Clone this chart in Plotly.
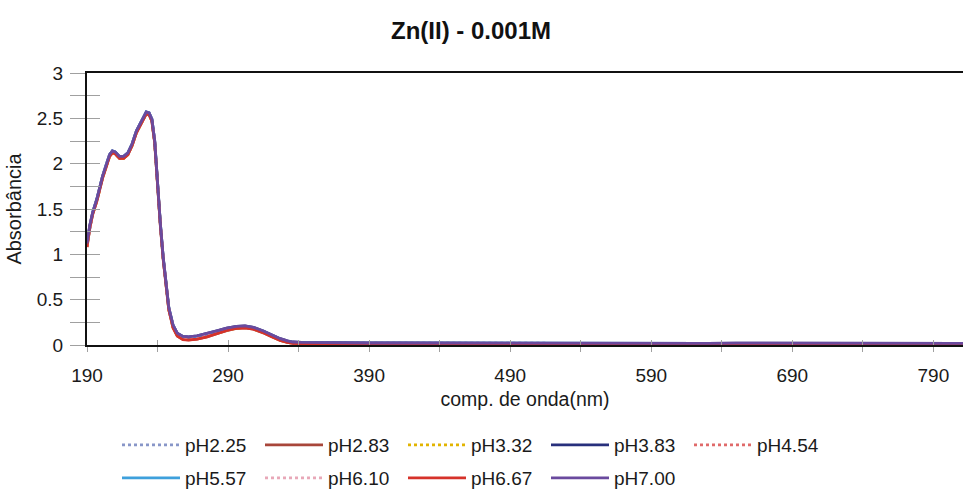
import plotly.graph_objects as go

# Wavelength grid (nm) shared by all spectra
wavelength = [190, 192, 194, 197, 201, 204, 206, 208, 210, 213,
              216, 219, 222, 225, 229, 232, 234, 236, 238, 240,
              242, 244, 246, 248, 251, 254, 258, 262, 268, 275,
              282, 289, 296, 302, 308, 315, 321, 327, 332, 336,
              342, 350, 370, 390, 410, 430, 450, 470, 490, 510,
              530, 550, 570, 590, 610, 630, 650, 670, 690, 710,
              730, 750, 770, 790, 811]

# Absorbance of each pH solution
abs_ph225 = [1.11, 1.31, 1.45, 1.60, 1.85, 2.00, 2.09, 2.13, 2.12, 2.07,
             2.07, 2.11, 2.21, 2.35, 2.48, 2.56, 2.55, 2.48, 2.24, 1.77,
             1.33, 0.96, 0.64, 0.40, 0.21, 0.125, 0.09, 0.085, 0.095, 0.12,
             0.15, 0.18, 0.20, 0.205, 0.19, 0.15, 0.105, 0.065, 0.04, 0.03,
             0.025, 0.023, 0.022, 0.02, 0.021, 0.02, 0.021, 0.019, 0.02, 0.019,
             0.02, 0.018, 0.013, 0.016, 0.019, 0.017, 0.019, 0.018, 0.02, 0.019,
             0.017, 0.019, 0.02, 0.019, 0.018]
abs_ph283 = [1.08, 1.29, 1.44, 1.59, 1.84, 1.99, 2.08, 2.12, 2.11, 2.06,
             2.06, 2.10, 2.20, 2.34, 2.47, 2.55, 2.54, 2.47, 2.23, 1.76,
             1.32, 0.95, 0.63, 0.39, 0.19, 0.10, 0.062, 0.056, 0.066, 0.09,
             0.125, 0.158, 0.182, 0.188, 0.174, 0.134, 0.09, 0.05, 0.028, 0.018,
             0.014, 0.012, 0.012, 0.011, 0.012, 0.011, 0.012, 0.01, 0.012, 0.011,
             0.012, 0.01, 0.006, 0.009, 0.012, 0.01, 0.012, 0.011, 0.013, 0.012,
             0.01, 0.012, 0.013, 0.012, 0.011]
abs_ph332 = [1.09, 1.30, 1.44, 1.59, 1.84, 1.99, 2.08, 2.12, 2.11, 2.06,
             2.06, 2.10, 2.20, 2.34, 2.47, 2.55, 2.54, 2.47, 2.23, 1.76,
             1.32, 0.95, 0.63, 0.39, 0.195, 0.105, 0.068, 0.062, 0.072, 0.097,
             0.13, 0.163, 0.186, 0.192, 0.178, 0.138, 0.094, 0.054, 0.031, 0.021,
             0.016, 0.014, 0.014, 0.013, 0.014, 0.013, 0.014, 0.012, 0.014, 0.013,
             0.014, 0.012, 0.008, 0.011, 0.014, 0.012, 0.014, 0.013, 0.015, 0.014,
             0.012, 0.014, 0.015, 0.014, 0.013]
abs_ph383 = [1.12, 1.32, 1.46, 1.61, 1.86, 2.01, 2.10, 2.14, 2.13, 2.08,
             2.08, 2.12, 2.22, 2.36, 2.49, 2.57, 2.56, 2.49, 2.25, 1.78,
             1.34, 0.97, 0.65, 0.41, 0.22, 0.13, 0.095, 0.09, 0.10, 0.125,
             0.155, 0.185, 0.205, 0.21, 0.195, 0.155, 0.11, 0.07, 0.045, 0.033,
             0.028, 0.026, 0.024, 0.022, 0.022, 0.021, 0.022, 0.02, 0.021, 0.02,
             0.021, 0.019, 0.014, 0.017, 0.02, 0.018, 0.02, 0.019, 0.021, 0.02,
             0.018, 0.02, 0.021, 0.02, 0.019]
abs_ph454 = [1.09, 1.30, 1.45, 1.60, 1.85, 2.00, 2.09, 2.13, 2.12, 2.07,
             2.07, 2.11, 2.21, 2.35, 2.48, 2.56, 2.55, 2.48, 2.24, 1.77,
             1.33, 0.96, 0.64, 0.40, 0.20, 0.11, 0.07, 0.064, 0.075, 0.10,
             0.133, 0.166, 0.189, 0.195, 0.181, 0.141, 0.097, 0.057, 0.033, 0.022,
             0.017, 0.015, 0.015, 0.014, 0.015, 0.014, 0.015, 0.013, 0.015, 0.014,
             0.015, 0.013, 0.009, 0.012, 0.015, 0.013, 0.015, 0.014, 0.016, 0.015,
             0.013, 0.015, 0.016, 0.015, 0.014]
abs_ph557 = [1.11, 1.31, 1.46, 1.61, 1.86, 2.01, 2.10, 2.14, 2.13, 2.08,
             2.08, 2.12, 2.22, 2.36, 2.49, 2.57, 2.56, 2.49, 2.25, 1.78,
             1.34, 0.97, 0.65, 0.41, 0.215, 0.125, 0.09, 0.085, 0.096, 0.121,
             0.151, 0.181, 0.201, 0.206, 0.191, 0.151, 0.106, 0.066, 0.041, 0.03,
             0.025, 0.023, 0.022, 0.021, 0.021, 0.02, 0.021, 0.019, 0.02, 0.019,
             0.02, 0.018, 0.013, 0.016, 0.019, 0.017, 0.019, 0.018, 0.02, 0.019,
             0.017, 0.019, 0.02, 0.019, 0.018]
abs_ph610 = [1.10, 1.30, 1.45, 1.60, 1.85, 2.00, 2.09, 2.13, 2.12, 2.07,
             2.07, 2.11, 2.21, 2.35, 2.48, 2.56, 2.55, 2.48, 2.24, 1.77,
             1.33, 0.96, 0.64, 0.40, 0.205, 0.115, 0.076, 0.07, 0.08, 0.105,
             0.138, 0.17, 0.192, 0.198, 0.184, 0.144, 0.1, 0.06, 0.035, 0.024,
             0.019, 0.017, 0.016, 0.015, 0.016, 0.015, 0.016, 0.014, 0.016, 0.015,
             0.016, 0.014, 0.01, 0.013, 0.016, 0.014, 0.016, 0.015, 0.017, 0.016,
             0.014, 0.016, 0.017, 0.016, 0.015]
abs_ph667 = [1.08, 1.29, 1.44, 1.59, 1.84, 1.99, 2.08, 2.12, 2.11, 2.06,
             2.06, 2.10, 2.20, 2.34, 2.47, 2.55, 2.54, 2.47, 2.23, 1.76,
             1.32, 0.95, 0.63, 0.39, 0.19, 0.10, 0.06, 0.055, 0.065, 0.09,
             0.125, 0.16, 0.185, 0.19, 0.175, 0.135, 0.09, 0.05, 0.028, 0.018,
             0.014, 0.012, 0.012, 0.011, 0.012, 0.011, 0.012, 0.01, 0.012, 0.011,
             0.012, 0.01, 0.006, 0.009, 0.012, 0.01, 0.012, 0.011, 0.013, 0.012,
             0.01, 0.012, 0.013, 0.012, 0.011]
abs_ph700 = [1.12, 1.32, 1.46, 1.61, 1.86, 2.01, 2.10, 2.14, 2.13, 2.08,
             2.08, 2.12, 2.22, 2.36, 2.49, 2.57, 2.56, 2.49, 2.25, 1.78,
             1.34, 0.97, 0.65, 0.41, 0.22, 0.13, 0.095, 0.09, 0.10, 0.125,
             0.155, 0.185, 0.205, 0.21, 0.195, 0.155, 0.11, 0.07, 0.045, 0.033,
             0.028, 0.026, 0.024, 0.022, 0.022, 0.021, 0.022, 0.02, 0.021, 0.02,
             0.021, 0.019, 0.014, 0.017, 0.02, 0.018, 0.02, 0.019, 0.021, 0.02,
             0.018, 0.02, 0.021, 0.02, 0.019]

x_ticks = [190, 290, 390, 490, 590, 690, 790]

series = [
    ("pH2.25", abs_ph225, "#8896c8", "dot", "legend"),
    ("pH2.83", abs_ph283, "#a8463a", "solid", "legend"),
    ("pH3.32", abs_ph332, "#e2b400", "dot", "legend"),
    ("pH3.83", abs_ph383, "#28307c", "solid", "legend"),
    ("pH4.54", abs_ph454, "#e06a6a", "dot", "legend"),
    ("pH5.57", abs_ph557, "#3ea0dc", "solid", "legend2"),
    ("pH6.10", abs_ph610, "#e8a8b8", "dot", "legend2"),
    ("pH6.67", abs_ph667, "#d6322a", "solid", "legend2"),
    ("pH7.00", abs_ph700, "#6a4a9e", "solid", "legend2"),
]

fig = go.Figure()
for name, values, color, dash, leg in series:
    fig.add_trace(go.Scatter(
        x=wavelength, y=values, name=name, mode="lines",
        line=dict(color=color, width=2.8, dash=dash),
        legend=leg,
    ))

font = "Liberation Sans, Arial, sans-serif"
tick_grey = "#a0a0a0"

legend_style = dict(
    orientation="h", xref="container", yref="container",
    x=117 / 963, xanchor="left", yanchor="middle",
    entrywidth=70, entrywidthmode="pixels", itemwidth=58,
    font=dict(size=19, color="#1a1a1a"), bgcolor="rgba(0,0,0,0)",
)

fig.update_layout(
    width=963, height=495,
    margin=dict(l=87, r=0, t=73, b=150),
    paper_bgcolor="white", plot_bgcolor="white",
    font=dict(family=font, size=19, color="#1a1a1a"),
    title=dict(text="<b>Zn(II) - 0.001M</b>", font=dict(size=24, color="#111"),
               x=471 / 963, xanchor="center", xref="container",
               y=1 - 31 / 495, yanchor="middle", yref="container"),
    xaxis=dict(
        range=[190, 811], tickvals=x_ticks, showgrid=False, zeroline=False,
        showline=True, linecolor="#111", linewidth=2, mirror=True,
        ticks="outside", ticklen=5, tickcolor=tick_grey, tickwidth=1,
        minor=dict(dtick=50, tick0=190, ticks="outside", ticklen=5, tickcolor=tick_grey),
        ticklabelstandoff=7,
        title=dict(text="comp. de onda(nm)", standoff=8, font=dict(size=19.5)),
        tickfont=dict(size=19),
    ),
    xaxis2=dict(
        range=[190, 811], overlaying="x", anchor="y", side="bottom",
        showgrid=False, zeroline=False, showticklabels=False,
        tickvals=x_ticks, ticks="inside", ticklen=5, tickcolor=tick_grey,
        minor=dict(dtick=50, tick0=190, ticks="inside", ticklen=5, tickcolor=tick_grey),
    ),
    yaxis=dict(
        range=[0, 3], dtick=0.5, showgrid=False, zeroline=False,
        showline=True, linecolor="#111", linewidth=2,
        ticks="outside", ticklen=15, tickcolor=tick_grey, tickwidth=1,
        minor=dict(dtick=0.25, ticks="outside", ticklen=15, tickcolor=tick_grey),
        ticklabelstandoff=3,
        title=dict(text="Absorbância", standoff=10, font=dict(size=20)),
        tickfont=dict(size=19),
    ),
    yaxis2=dict(
        range=[0, 3], overlaying="y", anchor="x", side="left",
        showgrid=False, zeroline=False, showticklabels=False,
        dtick=0.5, ticks="inside", ticklen=13, tickcolor=tick_grey,
        minor=dict(dtick=0.25, ticks="inside", ticklen=13, tickcolor=tick_grey),
    ),
    legend=dict(legend_style, y=1 - 445 / 495),
    legend2=dict(legend_style, y=1 - 478 / 495),
)

# Invisible trace keeps the overlay axes active so their crossing ticks are drawn
fig.add_trace(go.Scatter(x=[190], y=[0], xaxis="x2", yaxis="y2", mode="markers",
                         marker=dict(opacity=0), showlegend=False, hoverinfo="skip"))

fig.write_html("out.html")
